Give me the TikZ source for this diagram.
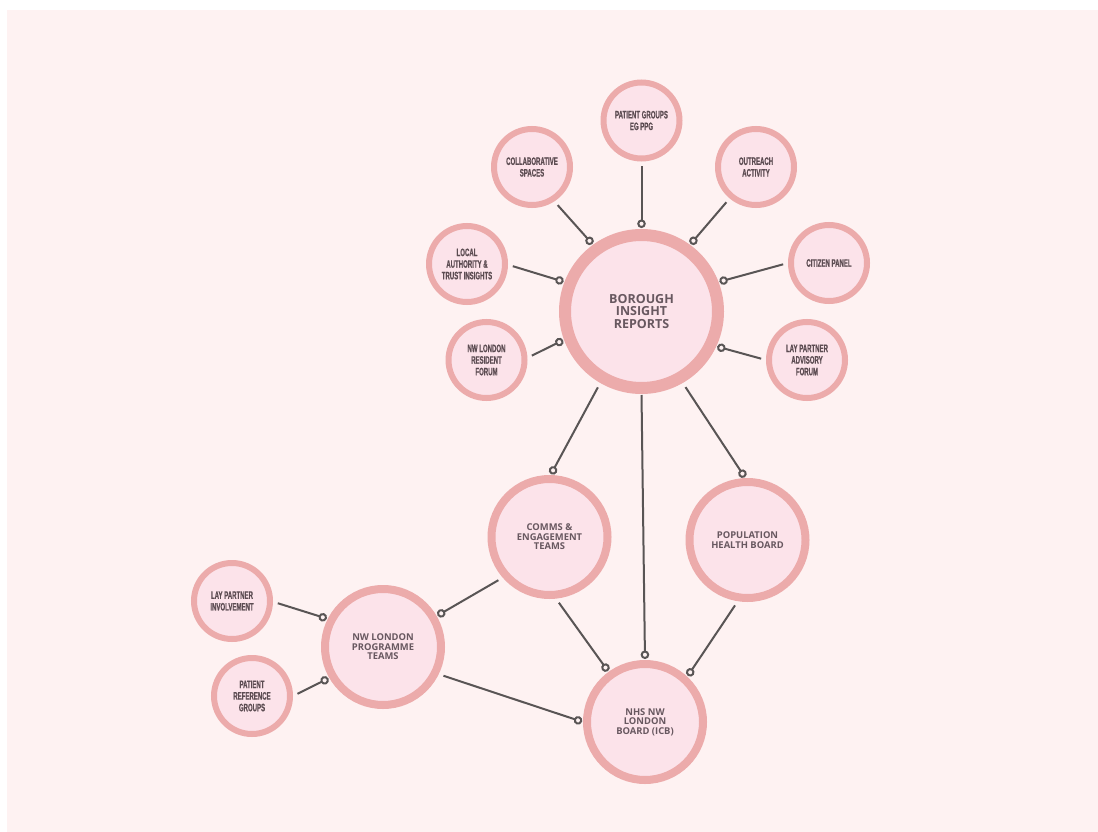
\documentclass[tikz,border=0pt]{standalone}
\usepackage{fontspec}
\usetikzlibrary{arrows.meta}
\newfontfamily\condfont[FakeStretch=0.56,FakeBold=0.6]{Liberation Sans}
\newfontfamily\osans{Open Sans}
\definecolor{bgc}{HTML}{FEF2F2}
\definecolor{ringc}{HTML}{ECABAB}
\definecolor{fillc}{HTML}{FCE3EA}
\definecolor{txtc}{HTML}{685860}
\definecolor{stxtc}{HTML}{5C4C52}
\definecolor{linec}{HTML}{595555}
\tikzset{
  bubble/.style={circle, draw=ringc, fill=fillc, inner sep=0pt, align=center, text=txtc},
  smallb/.style={bubble, line width=6pt, minimum size=76pt, text=stxtc,
     font=\condfont\bfseries\fontsize{10.8}{11.6}\selectfont},
  medb/.style={bubble, line width=8pt, minimum size=116pt,
     font=\osans\bfseries\fontsize{9.4}{9.4}\selectfont},
  bigb/.style={bubble, line width=12pt, minimum size=153pt,
     font=\osans\bfseries\fontsize{12.5}{12.3}\selectfont},
  conn/.style={draw=linec, line width=2pt, shorten <=5pt, shorten >=1pt,
     -{Circle[open,length=8.5pt,width=8.5pt]}}
}
\begin{document}
\begin{tikzpicture}[x=1pt,y=-1pt]
\useasboundingbox (0,0) rectangle (1098,832);
\fill[white] (0,0) rectangle (1098,832);
\fill[bgc] (7,10) rectangle (1098,832);

\node[bigb] (bir) at (641.5,311.5) {BOROUGH\\INSIGHT\\REPORTS};
\node[smallb] (ppg) at (641.5,120.5) {PATIENT GROUPS\\EG PPG};
\node[smallb] (collab) at (532,167) {COLLABORATIVE\\SPACES};
\node[smallb] (outreach) at (756,167) {OUTREACH\\ACTIVITY};
\node[smallb] (local) at (467,264) {LOCAL\\AUTHORITY \&\\TRUST INSIGHTS};
\node[smallb] (citizen) at (829,263) {CITIZEN PANEL};
\node[smallb] (resident) at (486.5,360) {NW LONDON\\RESIDENT\\FORUM};
\node[smallb] (layadv) at (807,360) {LAY PARTNER\\ADVISORY\\FORUM};
\node[medb] (comms) at (549.5,537) {COMMS \&\\ENGAGEMENT\\TEAMS};
\node[medb] (pop) at (747.5,540) {POPULATION\\HEALTH BOARD};
\node[medb] (prog) at (383,647) {NW LONDON\\PROGRAMME\\TEAMS};
\node[medb] (nhs) at (645,722) {NHS NW\\LONDON\\BOARD (ICB)};
\node[smallb] (layinv) at (232,601) {LAY PARTNER\\INVOLVEMENT};
\node[smallb] (patref) at (252,696) {PATIENT\\REFERENCE\\GROUPS};

\draw[conn] (ppg.270) -- (bir.90);
\draw[conn] (collab.303) -- (bir.126.5);
\draw[conn] (outreach.230.5) -- (bir.54);
\draw[conn] (local.359) -- (bir.159);
\draw[conn] (citizen.180) -- (bir.21);
\draw[conn] (resident.3) -- (bir.200);
\draw[conn] (layadv.180) -- (bir.335);
\draw[conn] (bir.240) -- (comms.89);
\draw[conn, shorten <=1pt] (bir.270) -- (nhs.90);
\draw[conn] (bir.300) -- (pop.92);
\draw[conn] (comms.221) -- (prog.30);
\draw[conn] (comms.276) -- (nhs.126);
\draw[conn] (pop.261) -- (nhs.47);
\draw[conn] (prog.334) -- (nhs.180);
\draw[conn] (layinv.359) -- (prog.153);
\draw[conn] (patref.0) -- (prog.210);
\end{tikzpicture}
\end{document}
